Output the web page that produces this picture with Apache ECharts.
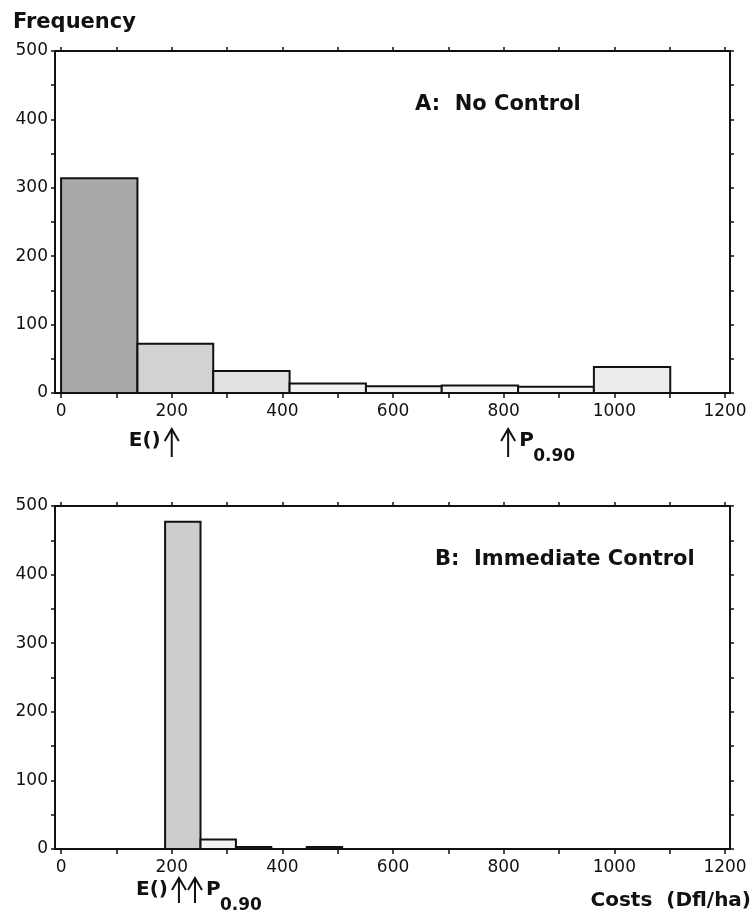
<!DOCTYPE html>
<html>
<head>
<meta charset="utf-8">
<script src="https://cdn.jsdelivr.net/npm/echarts@6/dist/echarts.min.js"></script>
<style>
  html, body { margin: 0; padding: 0; background: #fff; }
  #chart { width: 753px; height: 915px; }
</style>
</head>
<body>
<div id="chart"></div>
<script>
// histogram A: no control (bin edges in Dfl/ha, counts per bin)
const edgesA = [0, 138, 275, 413, 551, 688, 826, 963, 1101];
const countsA = [314, 72, 32, 14, 10, 11, 9, 38];
// histogram B: immediate control
const edgesB = [188, 252, 316, 380, 444, 508];
const countsB = [477, 14, 3, 0, 3];
// marked values under each panel: E() and P0.90
const marksA = [200, 808];
const marksB = [213, 242];
// axis ticks / labels
const xTickLabels = [0, 200, 400, 600, 800, 1000, 1200];
const xTicks = [0, 100, 200, 300, 400, 500, 600, 700, 800, 900, 1000, 1100, 1200];
const yTicks = [0, 50, 100, 150, 200, 250, 300, 350, 400, 450, 500];

const ink = "#111";
const shadesA = ["#a9a9a9", "#d2d2d2", "#e1e1e1", "#f3f3f3", "#f3f3f3", "#f3f3f3", "#f3f3f3", "#ececec"];
const shadesB = ["#cdcdcd", "#f3f3f3", "#f3f3f3", "#f3f3f3", "#f3f3f3"];

function binData(edges, counts) {
  return counts.map((c, i) => [edges[i], edges[i + 1], c]);
}

function xAxes(gridIndex) {
  const base = {
    type: "value",
    gridIndex: gridIndex,
    min: -11,
    max: 1209,
    splitLine: { show: false },
    axisLine: { show: true, onZero: false, lineStyle: { color: ink, width: 2 } },
  };
  return [
    Object.assign({}, base, {
      position: "bottom",
      axisTick: { show: true, inside: false, length: 5, customValues: xTicks, lineStyle: { color: ink, width: 1.5 } },
      axisLabel: {
        show: true,
        customValues: xTickLabels,
        margin: 10,
        color: ink,
        fontFamily: "DejaVu Sans",
        fontSize: 17,
        formatter: (v) => String(v),
      },
    }),
    Object.assign({}, base, {
      position: "top",
      axisTick: { show: true, inside: false, length: 4, customValues: xTicks, lineStyle: { color: ink, width: 1.5 } },
      axisLabel: { show: false },
    }),
  ];
}

function yAxes(gridIndex) {
  const base = {
    type: "value",
    gridIndex: gridIndex,
    min: 0,
    max: 500,
    interval: 100,
    splitLine: { show: false },
    axisLine: { show: true, onZero: false, lineStyle: { color: ink, width: 2 } },
    axisTick: { show: true, inside: false, length: 4, customValues: yTicks, lineStyle: { color: ink, width: 1.5 } },
  };
  return [
    Object.assign({}, base, {
      position: "left",
      axisLabel: { show: true, margin: 7, color: ink, fontFamily: "DejaVu Sans", fontSize: 17, padding: [0, 0, 5, 0] },
    }),
    Object.assign({}, base, {
      position: "right",
      axisLabel: { show: false },
    }),
  ];
}

function barSeries(axisIdx, edges, counts, shades) {
  return {
    type: "custom",
    xAxisIndex: axisIdx,
    yAxisIndex: axisIdx,
    data: binData(edges, counts),
    renderItem: function (params, api) {
      const h = api.value(2);
      if (!h) return null;
      const p0 = api.coord([api.value(0), 0]);
      const p1 = api.coord([api.value(1), h]);
      return {
        type: "rect",
        shape: { x: p0[0], y: p1[1], width: p1[0] - p0[0], height: p0[1] - p1[1] },
        style: { fill: shades[params.dataIndex], stroke: ink, lineWidth: 2 },
      };
    },
  };
}

function arrowSeries(axisIdx, marks, dy, len) {
  return {
    type: "custom",
    xAxisIndex: axisIdx,
    yAxisIndex: axisIdx,
    clip: false,
    data: marks.map((v) => [v, 0]),
    renderItem: function (params, api) {
      const p = api.coord([api.value(0), 0]);
      const x = p[0];
      const y0 = p[1] + dy;
      const y1 = y0 + len;
      const ty = y0 + 12;
      const kids = [
        { type: "line", shape: { x1: x, y1: y0, x2: x, y2: y1 }, style: { stroke: ink, lineWidth: 2 } },
        { type: "polyline", shape: { points: [[x - 7, y0 + 12], [x, y0], [x + 7, y0 + 12]] }, style: { stroke: ink, lineWidth: 2, fill: null } },
      ];
      if (params.dataIndex === 0) {
        kids.push({
          type: "text",
          style: { text: "E()", x: x - 11, y: ty, align: "right", textAlign: "right", verticalAlign: "middle", textVerticalAlign: "middle", font: "bold 20px 'DejaVu Sans'", fill: ink },
        });
      }
      if (params.dataIndex === marks.length - 1) {
        kids.push({
          type: "text",
          style: { text: "P", x: x + 11, y: ty, align: "left", textAlign: "left", verticalAlign: "middle", textVerticalAlign: "middle", font: "bold 20px 'DejaVu Sans'", fill: ink },
        });
        kids.push({
          type: "text",
          style: { text: "0.90", x: x + 25, y: ty + 16, align: "left", textAlign: "left", verticalAlign: "middle", textVerticalAlign: "middle", font: "bold 17px 'DejaVu Sans'", fill: ink },
        });
      }
      return { type: "group", children: kids };
    },
  };
}

const chart = echarts.init(document.getElementById("chart"));
chart.setOption({
  backgroundColor: "#fff",
  animation: false,
  grid: [
    { left: 55, right: 23, top: 51, height: 342, outerBoundsMode: "none" },
    { left: 55, right: 23, top: 506, height: 343, outerBoundsMode: "none" },
  ],
  xAxis: xAxes(0).concat(xAxes(1)),
  yAxis: yAxes(0).concat(yAxes(1)),
  graphic: [
    { type: "text", left: 13, top: 12, style: { text: "Frequency", font: "bold 21px 'DejaVu Sans'", fill: ink } },
    { type: "text", left: 415, top: 94, style: { text: "A:  No Control", font: "bold 21px 'DejaVu Sans'", fill: ink } },
    { type: "text", left: 435, top: 549, style: { text: "B:  Immediate Control", font: "bold 21px 'DejaVu Sans'", fill: ink } },
    { type: "text", right: 2, top: 891, style: { text: "Costs  (Dfl/ha)", font: "bold 20px 'DejaVu Sans'", fill: ink } },
  ],
  series: [
    barSeries(0, edgesA, countsA, shadesA),
    barSeries(2, edgesB, countsB, shadesB),
    arrowSeries(0, marksA, 36, 28),
    arrowSeries(2, marksB, 29, 25),
  ],
});
</script>
</body>
</html>
